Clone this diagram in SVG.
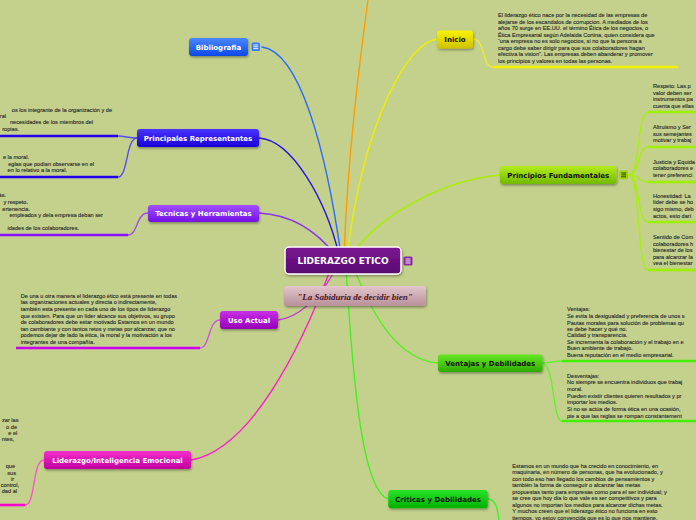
<svg xmlns="http://www.w3.org/2000/svg" width="696" height="520" viewBox="0 0 696 520">
<defs>
<filter id="sh" x="-10%" y="-30%" width="130%" height="180%"><feDropShadow dx="0.8" dy="1.5" stdDeviation="1" flood-color="#000" flood-opacity="0.35"/></filter>
<linearGradient id="gBib" x1="0" y1="0" x2="0" y2="1"><stop offset="0" stop-color="#4a88ff"/><stop offset="1" stop-color="#0c48e6"/></linearGradient>
<linearGradient id="gPri" x1="0" y1="0" x2="0" y2="1"><stop offset="0" stop-color="#4a34ff"/><stop offset="1" stop-color="#1800d6"/></linearGradient>
<linearGradient id="gTec" x1="0" y1="0" x2="0" y2="1"><stop offset="0" stop-color="#a050ff"/><stop offset="1" stop-color="#7412e4"/></linearGradient>
<linearGradient id="gUso" x1="0" y1="0" x2="0" y2="1"><stop offset="0" stop-color="#c830e6"/><stop offset="1" stop-color="#9600b6"/></linearGradient>
<linearGradient id="gLid" x1="0" y1="0" x2="0" y2="1"><stop offset="0" stop-color="#f430cc"/><stop offset="1" stop-color="#c0009e"/></linearGradient>
<linearGradient id="gIni" x1="0" y1="0" x2="0" y2="1"><stop offset="0" stop-color="#faf200"/><stop offset="1" stop-color="#cfc200"/></linearGradient>
<linearGradient id="gPrin" x1="0" y1="0" x2="0" y2="1"><stop offset="0" stop-color="#b4ec20"/><stop offset="1" stop-color="#72ba00"/></linearGradient>
<linearGradient id="gVen" x1="0" y1="0" x2="0" y2="1"><stop offset="0" stop-color="#66e626"/><stop offset="1" stop-color="#2eac00"/></linearGradient>
<linearGradient id="gCri" x1="0" y1="0" x2="0" y2="1"><stop offset="0" stop-color="#28e428"/><stop offset="1" stop-color="#00b000"/></linearGradient>
<linearGradient id="gCen" x1="0" y1="0" x2="0" y2="1"><stop offset="0" stop-color="#7c1a94"/><stop offset="1" stop-color="#5a0670"/></linearGradient>
<linearGradient id="gSub" x1="0" y1="0" x2="0" y2="1"><stop offset="0" stop-color="#e4c6cc"/><stop offset="1" stop-color="#b8909a"/></linearGradient>
</defs>
<style>
.lbl{font-family:"DejaVu Sans",Verdana,sans-serif;font-weight:bold;font-size:7px;text-anchor:middle}
.w{fill:#ffffff}
.k{fill:#111111}
.t{font-family:"Liberation Sans",Arial,sans-serif;font-size:5.6px;fill:#222222;stroke:#333333;stroke-width:0.12}
.e{text-anchor:end}
.c{fill:none;stroke-width:1.4;stroke-linecap:round}
.u{fill:none;stroke-width:2.6;stroke-linecap:butt}
.ml{stroke:#ffffff;stroke-width:0.9}
</style>
<rect width="696" height="520" fill="#c4d18c"/>

<g id="connectors">
<path class="c" stroke="#2a6cff" d="M262,47 C300,52 326,150 341,255"/>
<path class="c" stroke="#2a14e0" d="M259,138 C292,140 326,200 339,255"/>
<path class="c" stroke="#8a34ea" d="M259,213 C296,215 320,235 336,256"/>
<path class="c" stroke="#ff9c00" stroke-width="1.8" d="M368,0 C360,60 348,150 344,256"/>
<path class="c" stroke="#f0ee00" stroke-width="1.8" d="M437,39 C408,42 364,120 347,256"/>
<path class="c" stroke="#aaee00" d="M500,175 C440,180 372,220 352,256"/>
<path class="c" stroke="#c040d0" d="M278,320 C296,318 320,300 336,268"/>
<path class="c" stroke="#ff22cc" d="M191,460 C250,450 300,350 331,268"/>
<path class="c" stroke="#44f022" d="M388,499 C364,490 354,400 346,268"/>
<path class="c" stroke="#55ee22" d="M438,363 C400,360 374,320 354,268"/>
<path class="c" stroke="#5a4cf0" d="M137,138 C128,138 126,136 118,136"/>
<path class="c" stroke="#5a4cf0" d="M137,138 C126,138 128,177 118,177"/>
<path class="u" stroke="#2200ee" d="M0,136 H118"/>
<path class="u" stroke="#2200ee" d="M0,177 H118"/>
<path class="c" stroke="#9a50ea" d="M148,213 C136,213 138,235 128,235"/>
<path class="u" stroke="#8a10ff" d="M0,235 H128"/>
<path class="c" stroke="#cc55dd" d="M220,320 C208,320 210,348 200,348"/>
<path class="u" stroke="#cc00ee" d="M16,348 H200"/>
<path class="c" stroke="#ff55cc" d="M44,460 C32,460 36,505 25,505"/>
<path class="u" stroke="#ff00cc" d="M0,505 H25"/>
<path class="c" stroke="#eeea30" d="M473,39 C485,39 482,67 493,67"/>
<path class="u" stroke="#f6f000" d="M493,67 H678"/>
<path class="c" stroke="#a8ee10" d="M629,175 C640,175 637,112 648,112"/>
<path class="c" stroke="#a8ee10" d="M629,175 C640,175 637,147 648,147"/>
<path class="c" stroke="#a8ee10" d="M629,175 C640,175 637,182 648,182"/>
<path class="c" stroke="#a8ee10" d="M629,175 C640,175 637,222 648,222"/>
<path class="c" stroke="#a8ee10" d="M629,175 C640,175 637,270 648,270"/>
<path class="u" stroke="#9cf000" d="M648,112 H696 M648,147 H696 M648,182 H696 M648,222 H696 M648,270 H696"/>
<path class="c" stroke="#66ee33" d="M542,363 C552,363 552,361 562,361"/>
<path class="c" stroke="#66ee33" d="M542,363 C555,363 552,421 562,421"/>
<path class="u" stroke="#44ee00" d="M562,361 H696 M562,421 H696"/>
<path class="c" stroke="#44ee33" d="M488,499 C496,499 498,510 499,520"/>
</g>

<g id="center">
<rect x="285" y="247" width="116" height="27" rx="4" fill="url(#gCen)" stroke="#ffffff" stroke-width="1.5" filter="url(#sh)"/>
<text x="343" y="264" class="lbl w" style="font-size:9px">LIDERAZGO ETICO</text>
<rect x="403.5" y="256.5" width="9" height="9" rx="1.5" fill="#8a2a9e"/>
<path class="ml" d="M405.5,259 H410.5 M405.5,261 H410.5 M405.5,263 H410.5"/>
</g>
<g id="subtitle">
<rect x="284" y="286" width="142" height="20" rx="3" fill="url(#gSub)" filter="url(#sh)"/>
<text x="355" y="299.5" text-anchor="middle" style="font-family:'Liberation Serif','Times New Roman',serif;font-style:italic;font-weight:bold;font-size:9px;fill:#4a1626">"La Sabiduria de decidir bien"</text>
</g>

<g id="bibliografia">
<rect x="189" y="38" width="59" height="18" rx="3" fill="url(#gBib)" filter="url(#sh)"/>
<text x="218.5" y="49.5" class="lbl w">Bibliografia</text>
<rect x="251.5" y="42.5" width="8.5" height="8.5" rx="1.5" fill="#3a7cff"/>
<path class="ml" d="M253.3,45 H258.2 M253.3,46.8 H258.2 M253.3,48.6 H258.2"/>
</g>

<g id="principales">
<rect x="137" y="129" width="122" height="18" rx="3" fill="url(#gPri)" filter="url(#sh)"/>
<text x="198" y="140.5" class="lbl w">Principales Representantes</text>
<text class="t e"><tspan x="112" y="112">os los integrante de la organización y de</tspan><tspan x="6" y="117.7">ral</tspan><tspan x="93" y="124.3">necesidades de los miembros del</tspan><tspan x="19" y="131">ropias.</tspan></text>
<text class="t e"><tspan x="29" y="158.7">e la moral.</tspan><tspan x="94" y="166">eglas que podían observarse en el</tspan><tspan x="67" y="172">en lo relativo a la moral.</tspan></text>
</g>

<g id="tecnicas">
<rect x="148" y="205" width="111" height="17" rx="3" fill="url(#gTec)" filter="url(#sh)"/>
<text x="203.5" y="216" class="lbl w">Tecnicas y Herramientas</text>
<text class="t e"><tspan x="6" y="197">ás.</tspan><tspan x="28" y="204">y respeto.</tspan><tspan x="30" y="210.7">ertenencia.</tspan><tspan x="103" y="216.7">empleados y dela empresa deban ser</tspan><tspan x="79" y="230.3">idades de los colaboradores.</tspan></text>
</g>

<g id="uso-actual">
<rect x="220" y="311" width="58" height="18" rx="3" fill="url(#gUso)" filter="url(#sh)"/>
<text x="249" y="322.5" class="lbl w">Uso Actual</text>
<text class="t"><tspan x="20.7" y="297.7">De una u otra manera el liderazgo ético está presente en todas</tspan><tspan x="20.7" y="304.3">las organizaciones actuales y directa o indirectamente,</tspan><tspan x="20.7" y="311">también esta presente en cada uno de los tipos de liderazgo</tspan><tspan x="20.7" y="317.5">que existen. Para que un líder alcance sus objetivos, su grupo</tspan><tspan x="20.7" y="324">de colaboradores debe estar motivado  Estamos en un mundo</tspan><tspan x="20.7" y="330.5">tan cambiante y con tantos retos y metas por alcanzar, que no</tspan><tspan x="20.7" y="337">podemos dejar de lado la ética, la moral y la motivación a los</tspan><tspan x="20.7" y="343.5">integrantes de una compañía.</tspan></text>
</g>

<g id="liderazgo-inteligencia">
<rect x="44" y="451" width="147" height="18" rx="3" fill="url(#gLid)" filter="url(#sh)"/>
<text x="117.5" y="462.5" class="lbl w">Liderazgo/Inteligencia Emocional</text>
<text class="t e"><tspan x="18.5" y="422">zar las</tspan><tspan x="17" y="428.7">o de</tspan><tspan x="17.3" y="434.7">e el</tspan><tspan x="14" y="441.3">ntes,</tspan><tspan x="15" y="467.7">que</tspan><tspan x="16" y="474.7">sus</tspan><tspan x="14" y="480.7">ir</tspan><tspan x="19" y="487">control,</tspan><tspan x="17" y="492.7">dad al</tspan></text>
</g>

<g id="inicio">
<rect x="437" y="30.5" width="36" height="18" rx="3" fill="url(#gIni)" filter="url(#sh)"/>
<text x="455" y="42" class="lbl k">Inicio</text>
<text class="t"><tspan x="498" y="17">El liderazgo ético nace por la necesidad de las empresas de</tspan><tspan x="498" y="23.5">alejarse de los escandalos de corrupcion.  A mediados de los</tspan><tspan x="498" y="30.2">años 70 surge en EE.UU. el término Ética de los negocios, o</tspan><tspan x="498" y="36.8">Ética Empresarial según Adelaida Cortina; quien considera que</tspan><tspan x="498" y="43.4">“una empresa no es solo negocios, si no que la persona a</tspan><tspan x="498" y="50">cargo debe saber dirigir para que sus colaboradores hagan</tspan><tspan x="498" y="56.4">efectiva la vision”. Las empresas deben abanderar y promover</tspan><tspan x="498" y="63">los principios y valores en todas las personas.</tspan></text>
</g>

<g id="principios">
<rect x="500" y="166" width="116.5" height="18" rx="3" fill="url(#gPrin)" filter="url(#sh)"/>
<text x="558.3" y="177.5" class="lbl k">Principios Fundamentales</text>
<rect x="619.3" y="170.5" width="8.7" height="8.7" rx="1.5" fill="#9cd400"/>
<path d="M621.2,173 H626.1 M621.2,174.9 H626.1 M621.2,176.8 H626.1" stroke="#2a3a00" stroke-width="0.9"/>
<text class="t"><tspan x="653" y="88">Respeto:  Las p</tspan><tspan x="653" y="94.7">valor deben ser</tspan><tspan x="653" y="101">instrumentos pa</tspan><tspan x="653" y="107.7">cuenta que ellas</tspan></text>
<text class="t"><tspan x="653" y="129.3">Altruismo y Ser</tspan><tspan x="653" y="135.7">sus semejantes</tspan><tspan x="653" y="142.3">motivar y trabaj</tspan></text>
<text class="t"><tspan x="653" y="163.7">Justicia y Equida</tspan><tspan x="653" y="170">colaboradores e</tspan><tspan x="653" y="176.7">tener preferenci</tspan></text>
<text class="t"><tspan x="653" y="197.7">Honestidad:  La</tspan><tspan x="653" y="204">líder debe se ho</tspan><tspan x="653" y="211">sigo mismo, deb</tspan><tspan x="653" y="217.7">actos, esto darí</tspan></text>
<text class="t"><tspan x="653" y="239">Sentido de Com</tspan><tspan x="653" y="245.7">colaboradores h</tspan><tspan x="653" y="252">bienestar de los</tspan><tspan x="653" y="258.7">para alcanzar la</tspan><tspan x="653" y="265">vea el bienestar</tspan></text>
</g>

<g id="ventajas">
<rect x="438" y="354.5" width="104.5" height="17.5" rx="3" fill="url(#gVen)" filter="url(#sh)"/>
<text x="490.3" y="365.5" class="lbl k">Ventajas y Debilidades</text>
<text class="t"><tspan x="567" y="311.3">Ventajas:</tspan><tspan x="567" y="318">Se evita la desigualdad y preferencia de unos s</tspan><tspan x="567" y="324.7">Pautas morales para solución de problemas qu</tspan><tspan x="567" y="330.9">se debe hacer y qué no.</tspan><tspan x="567" y="337.2">Calidad y transparencia.</tspan><tspan x="567" y="343.8">Se incrementa la colaboración y el trabajo en e</tspan><tspan x="567" y="350.4">Buen ambiente de trabajo.</tspan><tspan x="567" y="357">Buena reputación en el  medio empresarial.</tspan></text>
<text class="t"><tspan x="567" y="377.7">Desventajas:</tspan><tspan x="567" y="384.3">No siempre se encuentra individuos que trabaj</tspan><tspan x="567" y="391">moral.</tspan><tspan x="567" y="397.7">Pueden existir clientes quieren resultados y pr</tspan><tspan x="567" y="404.3">importar los medios.</tspan><tspan x="567" y="411">Si no se actúa de forma ética en una ocasión,</tspan><tspan x="567" y="417.6">pie a que las reglas se rompan constantement</tspan></text>
</g>

<g id="criticas">
<rect x="388.3" y="490" width="99.4" height="18.3" rx="3" fill="url(#gCri)" filter="url(#sh)"/>
<text x="438" y="501.5" class="lbl k">Criticas y Debilidades</text>
<text class="t"><tspan x="512.3" y="467.7">Estamos en un mundo que ha crecido en conocimiento, en</tspan><tspan x="512.3" y="474.3">maquinaria, en número de personas, que ha evolucionado, y</tspan><tspan x="512.3" y="480.7">con todo eso han llegado los cambios de pensamientos y</tspan><tspan x="512.3" y="487.3">también la forma de conseguir o alcanzar las metas</tspan><tspan x="512.3" y="493.7">propuestas tanto para empresas como para el ser individual; y</tspan><tspan x="512.3" y="500.3">se cree que hoy día lo que vale es ser competitivos y para</tspan><tspan x="512.3" y="507">algunos no importan los medios para alcanzar dichas metas.</tspan><tspan x="512.3" y="513.3">Y muchos creen que el liderazgo ético no funciona en esto</tspan><tspan x="512.3" y="519.7">tiempos, yo estoy convencida que es lo que nos mantiene.</tspan></text>
</g>
</svg>
